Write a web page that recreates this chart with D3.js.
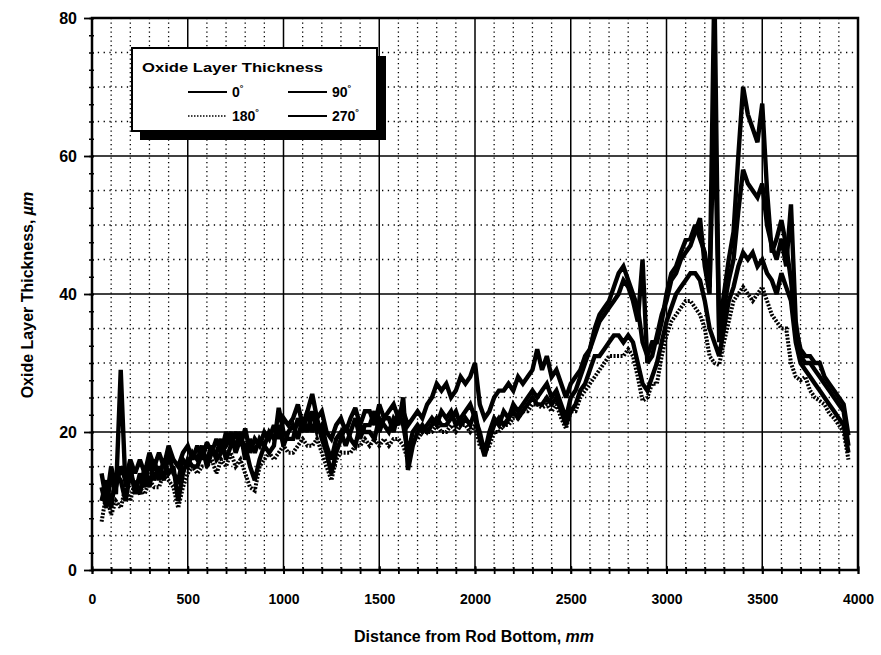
<!DOCTYPE html>
<html><head><meta charset="utf-8">
<script src="https://cdn.jsdelivr.net/npm/d3@7"></script>
<style>body{margin:0;background:#fff}svg{display:block}</style>
</head><body>
<svg id="c" width="881" height="655"></svg>
<script>
// Distance from rod bottom (mm)
const distances = [50,75,100,125,150,175,200,225,250,275,300,325,350,375,400,425,450,475,500,525,
550,575,600,625,650,675,700,725,750,775,800,825,850,875,900,925,950,975,1000,1025,
1050,1075,1100,1125,1150,1175,1200,1225,1250,1275,1300,1325,1350,1375,1400,1425,1450,1475,1500,1525,
1550,1575,1600,1625,1650,1675,1700,1725,1750,1775,1800,1825,1850,1875,1900,1925,1950,1975,2000,2025,
2050,2075,2100,2125,2150,2175,2200,2225,2250,2275,2300,2325,2350,2375,2400,2425,2450,2475,2500,2525,
2550,2575,2600,2625,2650,2675,2700,2725,2750,2775,2800,2825,2850,2875,2900,2925,2950,2975,3000,3025,
3050,3075,3100,3125,3150,3175,3200,3225,3250,3275,3300,3325,3350,3375,3400,3425,3450,3475,3500,3525,
3550,3575,3600,3625,3650,3675,3700,3725,3750,3775,3800,3825,3850,3875,3900,3925,3950];

// Oxide layer thickness (µm) per azimuth
const deg0 = [12,9,14,11, 29,12,15,11, 14,12,16,13, 15,13,17,14, 13,16,15,17,
16,18,15,17, 17,19,16,18, 18,20,16,19, 17,19,18,20, 19,21,18,20,
21,19,22,20, 23,20,21,18, 16,19,20,18, 20,22,19,21, 21,23,20,22,
22,20,23,21, 17,20,21,20, 21,22,21,23, 22,23,21,22, 23,24,22,20,
17,20,22,21, 23,22,24,23, 24,25,26,25, 26,27,25,26, 24,22,25,26,
28,30,32,34, 36,37,38,39, 40,42,41,39, 36,45,30,31, 34,37,39,42,
43,45,46,47, 49,51,44,40, 85,33,38,42, 45,52,58,56, 55,54,56,50,
47,45,48,44, 53,36,31,30, 30,29,28,27, 26,25,24,23, 18];
const deg90 = [10,13,9,14, 13,10,14,12, 11,15,12,16, 13,16,14,15, 10,14,16,15,
15,17,16,18, 16,17,18,20, 17,19,18,15, 13,16,18,17, 18,23.5,20,19,
19,22,20,23, 20,22,19,17, 14,17,19,21, 19,18,21,20, 20,19,22,21,
20,22,21,25, 14.5,18,20,21, 20,21,22,21, 21,22,23,21, 22,21,23,19,
16.5,19,21,22, 21,22,23,22, 23,24,25,24, 24,25,24,25, 23,21,23,24,
26,27,29,31, 31,32,33,34, 34,33,34,33, 30,27,26,28, 30,33,36,38,
40,41,42,43, 43,42,39,35, 33,31,35,39, 41,44,46,45, 46,44,45,43,
42,40,43,41, 39,33,30,29, 28,27,26,25, 24,23,22,21, 17];
const deg180 = [7,11,8,10, 9,12,10,13, 12,11,13,12, 12,14,13,12, 9,12,14,15,
14,15,15,16, 14,16,15,17, 15,16,14,12, 11.5,15,16,17, 16,17,18,17,
17,18,19,18, 18,19,17,15, 13,16,17,17, 17,18,18,19, 18,19,18,19,
18,19,19,18, 16,19,19,20, 20,20,21,20, 20,21,20,21, 21,20,21,18,
17,18,20,20, 21,21,22,22, 23,23,24,24, 23.5,24,23,24, 22,20.5,23,23,
25,26,27,28, 29,30,31,31, 31,31,32,31, 28,24.5,25,27, 27,31,34,36,
37,38,39,39, 38,37,35,31, 30,29.7,33,36, 39,40,41,40, 39,40,41,39,
37,36,35,35, 30,28,27.5,28, 26,25,24.5,24, 22.7,22,21,20, 16];
const deg270 = [14,10,15,12, 15,13,16,14, 16,14,17,15, 17,15,18,16, 15,17,18,16,
18,16,18.5,17, 19,17,20,18, 20,18,20.5,17, 19,18,20,19, 21,19,22,21,
22,24,21,23, 25.5,22,23,20, 19,21,22,20, 22,23.5,21,23, 23,21,24,22,
23,24,22,23, 21,22,23,22, 24,25,27,26, 27,25,26,28, 27,28,30,24,
22,23,25,26, 26,27,26,28, 27,28,29,32, 29,31,28,29, 27,25,27,28,
29,31,32,35, 37,38,39,41, 43,44,42,40, 38,33,31,33, 33,36,40,43,
44,46,47.8,48, 50,48,46,41, 67,35,40,45, 49,60,70,66, 64,62,67.6,55,
46,48,50.7,47, 42,35,32,31, 31,30,30,28, 27,26,25,24, 19.5];

const seriesNames = ["0°","90°","180°","270°"];
const xMajorTicks = [0,500,1000,1500,2000,2500,3000,3500,4000];
const yMajorTicks = [0,20,40,60,80];

const svg = d3.select("#c");
const x = d3.scaleLinear().domain([0,4000]).range([92,858]);
const y = d3.scaleLinear().domain([0,80]).range([570,18]);

// minor dotted grid
const xMinor = d3.range(100,4000,100).filter(v => v % 500 !== 0);
const yMinor = d3.range(5,80,5).filter(v => v % 20 !== 0);
const grid = svg.append("g");
grid.selectAll(".vx").data(xMinor).join("line")
  .attr("x1", d=>x(d)).attr("x2", d=>x(d)).attr("y1", y(80)).attr("y2", y(0))
  .attr("stroke","#000").attr("stroke-width",1.3).attr("stroke-dasharray","1.3,3.2");
grid.selectAll(".hy").data(yMinor).join("line")
  .attr("x1", x(0)).attr("x2", x(4000)).attr("y1", d=>y(d)).attr("y2", d=>y(d))
  .attr("stroke","#000").attr("stroke-width",1.3).attr("stroke-dasharray","1.3,4.5");
// major solid grid
grid.selectAll(".mx").data(xMajorTicks.slice(1,-1)).join("line")
  .attr("x1", d=>x(d)).attr("x2", d=>x(d)).attr("y1", y(80)).attr("y2", y(0))
  .attr("stroke","#000").attr("stroke-width",1.5);
grid.selectAll(".my").data(yMajorTicks.slice(1,-1)).join("line")
  .attr("x1", x(0)).attr("x2", x(4000)).attr("y1", d=>y(d)).attr("y2", d=>y(d))
  .attr("stroke","#000").attr("stroke-width",1.5);

// data
svg.append("clipPath").attr("id","clip").append("rect")
  .attr("x",x(0)).attr("y",y(80)).attr("width",x(4000)-x(0)).attr("height",y(0)-y(80));
const line = d3.line().x((d,i)=>x(distances[i])).y(d=>y(d));
const seriesData = [deg0, deg90, deg180, deg270];
const styles = [
  {w:4.4, dash:null},
  {w:4.4, dash:null},
  {w:4.0, dash:"2,1.5"},
  {w:4.4, dash:null}
];
const dg = svg.append("g").attr("clip-path","url(#clip)");
seriesData.forEach((s,k) => {
  dg.append("path").datum(s).attr("d", line)
    .attr("fill","none").attr("stroke","#000")
    .attr("stroke-width", styles[k].w)
    .attr("stroke-linejoin","miter").attr("stroke-miterlimit",2.5)
    .attr("stroke-dasharray", styles[k].dash);
});

// frame
svg.append("rect").attr("x",x(0)).attr("y",y(80)).attr("width",x(4000)-x(0)).attr("height",y(0)-y(80))
  .attr("fill","none").attr("stroke","#000").attr("stroke-width",2.5);

// axes
const font = "'Liberation Sans', Arial, sans-serif";
const xAxisMinor = d3.axisBottom(x).tickValues(d3.range(0,4001,100)).tickSize(7).tickFormat("");
svg.append("g").attr("transform",`translate(0,${y(0)-3})`).call(xAxisMinor)
  .call(g=>g.select(".domain").remove())
  .call(g=>g.selectAll("line").attr("stroke-width",1.8));
const xAxis = d3.axisBottom(x).tickValues(xMajorTicks).tickSize(8).tickPadding(20).tickFormat(d3.format("d"));
svg.append("g").attr("transform",`translate(0,${y(0)-4})`).call(xAxis)
  .call(g=>g.select(".domain").remove())
  .call(g=>g.selectAll("line").attr("stroke-width",1.8))
  .call(g=>g.selectAll("text").attr("font-family",font).attr("font-weight","bold")
     .attr("font-size",14).attr("fill","#000"));

const yAxisMinor = d3.axisLeft(y).tickValues(d3.range(0,81,2.5)).tickSize(5).tickFormat("");
svg.append("g").attr("transform",`translate(${x(0)+2},0)`).call(yAxisMinor)
  .call(g=>g.select(".domain").remove())
  .call(g=>g.selectAll("line").attr("stroke-width",1.5));
const yAxis = d3.axisLeft(y).tickValues(yMajorTicks).tickSize(10).tickPadding(7).tickFormat(d3.format("d"));
svg.append("g").attr("transform",`translate(${x(0)+2},0)`).call(yAxis)
  .call(g=>g.select(".domain").remove())
  .call(g=>g.selectAll("line").attr("stroke-width",1.8))
  .call(g=>g.selectAll("text").attr("font-family",font).attr("font-weight","bold")
     .attr("font-size",16).attr("fill","#000"));

// axis titles
const xt = svg.append("text").attr("x",474).attr("y",642).attr("text-anchor","middle")
  .attr("font-family",font).attr("font-weight","bold").attr("font-size",16);
xt.append("tspan").text("Distance from Rod Bottom, ");
xt.append("tspan").attr("font-style","italic").text("mm");
const yt = svg.append("text").attr("transform","translate(33,295) rotate(-90)").attr("text-anchor","middle")
  .attr("font-family",font).attr("font-weight","bold").attr("font-size",16);
yt.append("tspan").text("Oxide Layer Thickness, ");
yt.append("tspan").attr("font-style","italic").text("µm");

// legend
const lg = svg.append("g");
lg.append("rect").attr("x",140).attr("y",56).attr("width",246).attr("height",84).attr("fill","#000");
lg.append("rect").attr("x",132).attr("y",48).attr("width",245).attr("height",83)
  .attr("fill","#fff").attr("stroke","#000").attr("stroke-width",2);
lg.append("text").attr("x",142).attr("y",72).attr("font-family",font).attr("font-weight","bold")
  .attr("font-size",12.5).attr("textLength",181).attr("lengthAdjust","spacingAndGlyphs").text("Oxide Layer Thickness");
const legendPos = [[188,92],[288,92],[188,116],[288,116]];
seriesNames.forEach((n,k)=>{
  const [lx,ly] = legendPos[k];
  lg.append("line").attr("x1",lx).attr("x2",lx+39).attr("y1",ly).attr("y2",ly)
    .attr("stroke","#000").attr("stroke-width", k===2?1.5:2)
    .attr("stroke-dasharray", k===2?"1.5,1.5":null);
  const t = lg.append("text").attr("x",lx+44).attr("y",ly+5).attr("font-family",font)
    .attr("font-weight","bold").attr("font-size",14);
  t.text(n.replace("°",""));
  t.append("tspan").attr("font-size",9).attr("dy",-6).text("°");
});
</script>
</body></html>
